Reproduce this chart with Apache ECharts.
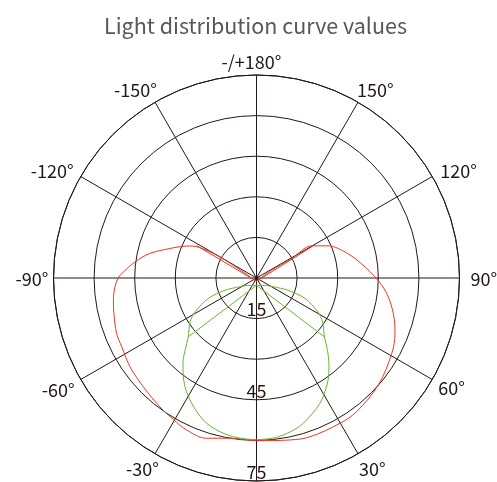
<!DOCTYPE html>
<html><head><meta charset="utf-8">
<script src="https://cdn.jsdelivr.net/npm/echarts@6/dist/echarts.min.js"></script>
<style>html,body{margin:0;padding:0;background:#fff}#c{width:497px;height:482px}</style>
</head><body><div id="c"></div>
<script>
const chartTitle = 'Light distribution curve values';
// radius axis ticks and the ones that carry a label
const radiusTicks = [0, 15, 30, 45, 60, 75];
const radiusLabelled = [15, 45, 75];
// angle axis ticks (0 = bottom, counter-clockwise) and their texts (0° is not shown)
const angleTicks = [0, 30, 60, 90, 120, 150, 180, 210, 240, 270, 300, 330];
const angleLabels = ['', '30°', '60°', '90°', '120°', '150°', '-/+180°', '-150°', '-120°', '-90°', '-60°', '-30°'];

// [value, angle in degrees]
const redLoop = [
  [1.2, 0], [2.4, -99.6], [9.8, -118.9], [17.0, -119.8], [23.7, -118.2], [27.3, -115.7],
  [30.5, -112.3], [33.8, -108.8], [40.4, -103], [45.3, -97.5], [49.8, -91.9], [51.1, -90],
  [52.4, -86.4], [53.5, -81.2], [54.3, -76], [55.6, -68.3], [55.9, -62.9], [57.1, -54.9],
  [58.0, -46.1], [59.5, -36.8], [60.6, -30.5], [61.8, -24.7], [62.0, -17.3], [60.0, -9.4],
  [60.1, 0], [61.1, 11.7], [61.9, 18.6], [61.9, 29.9], [61.7, 36.8], [59.9, 48.7],
  [57.2, 60.9], [55.1, 68.2], [52.2, 75.5], [48.4, 83.3], [43.8, 90.5], [37.1, 101.2],
  [32.1, 109.8], [29.1, 114.1], [23.6, 120.2], [14.9, 119], [6.3, 117.2], [1.2, 0]
];
const redChords = [[25.1, -118.4], [1.2, 0], [23.8, 119.5]];

const greenLoop = [
  [2.7, 0], [3.6, -41.3], [5.1, -55.9], [6.9, -62.2], [12.5, -68.8], [19.4, -67], [25.9, -61.1],
  [29.4, -56.6], [33.3, -49.2], [37.5, -44.7], [41.3, -41.1], [45.0, -37], [50.6, -29.8],
  [56.1, -20.5], [58.4, -13.3], [59.4, -7], [59.7, 0], [59.4, 6.6], [58.2, 12.3], [56.4, 17.8],
  [51.9, 26.8], [46.1, 35], [41.9, 39.7], [37.4, 44.5], [33.2, 49.1], [29.3, 56.4], [25.9, 61.1],
  [19.5, 67.1], [12.5, 68.8], [6.9, 62.2], [5.1, 55.9], [3.6, 41.3], [2.7, 0]
];
const greenChords = [[33.3, -49.2], [2.7, 0], [33.2, 49.1]];

const toAxis = arr => arr.map(([v, a]) => [v, a < 0 ? a + 360 : a]);
const gridColor = '#231815';
const textColor = '#231815';
const font = '"Noto Sans CJK SC", "Noto Sans", sans-serif';

// per-label padding [top, right, bottom, left] to fine-tune placement
const angleLabelPad = {
  0: [0, 0, 0, 0], 30: [13, 0, 0, 5], 60: [4, 0, 0, 13], 90: [2, 0, 0, 19], 120: [0, 0, 0, 15],
  150: [0, 0, 10, 3], 180: [0, 10, 12, 0], 210: [0, 2, 10, 0], 240: [0, 14, 0, 0],
  270: [2, 13, 0, 0], 300: [6, 13, 0, 0], 330: [13, 0, 0, 0]
};
const rich = {};
angleTicks.forEach(v => {
  rich['a' + v] = {fontFamily: font, fontSize: 18, color: textColor, padding: angleLabelPad[v]};
});

const chart = echarts.init(document.getElementById('c'), null, {renderer: 'canvas'});
const lineSeries = (data, color, smooth) => ({
  type: 'line', coordinateSystem: 'polar', data: toAxis(data), smooth: smooth,
  symbol: 'none', silent: true, lineStyle: {color: color, width: 1}, z: 3
});
chart.setOption({
  animation: false,
  backgroundColor: '#fff',
  title: {
    text: chartTitle, left: 104, top: 15, padding: 0,
    textStyle: {fontFamily: font, fontSize: 21.5, fontWeight: 'normal', color: '#595757'}
  },
  polar: {center: [256.5, 278], radius: 203},
  angleAxis: {
    type: 'value', min: 0, max: 360, interval: 30, startAngle: 270, clockwise: false,
    axisLine: {show: true, lineStyle: {color: gridColor, width: 1}},
    axisTick: {show: false},
    splitLine: {show: true, lineStyle: {color: gridColor, width: 1}},
    axisLabel: {
      margin: -8, fontFamily: font, fontSize: 18, color: textColor, rich: rich,
      formatter: v => {
        const i = angleTicks.indexOf(v);
        return i >= 0 && angleLabels[i] ? '{a' + v + '|' + angleLabels[i] + '}' : '';
      }
    }
  },
  radiusAxis: {
    type: 'value', min: radiusTicks[0], max: radiusTicks[radiusTicks.length - 1], interval: 15,
    axisLine: {show: false}, axisTick: {show: false},
    splitLine: {show: true, lineStyle: {color: gridColor, width: 1}},
    axisLabel: {
      margin: 0, align: 'center', verticalAlign: 'bottom', fontFamily: font, fontSize: 18, color: textColor,
      formatter: v => radiusLabelled.indexOf(v) >= 0 ? String(v) : ''
    }
  },
  series: [
    lineSeries(redLoop, '#e83828', 0.35),
    lineSeries(redChords, '#e83828', false),
    lineSeries(greenLoop, '#67b52f', 0.3),
    lineSeries(greenChords, '#67b52f', false)
  ]
});
</script></body></html>
